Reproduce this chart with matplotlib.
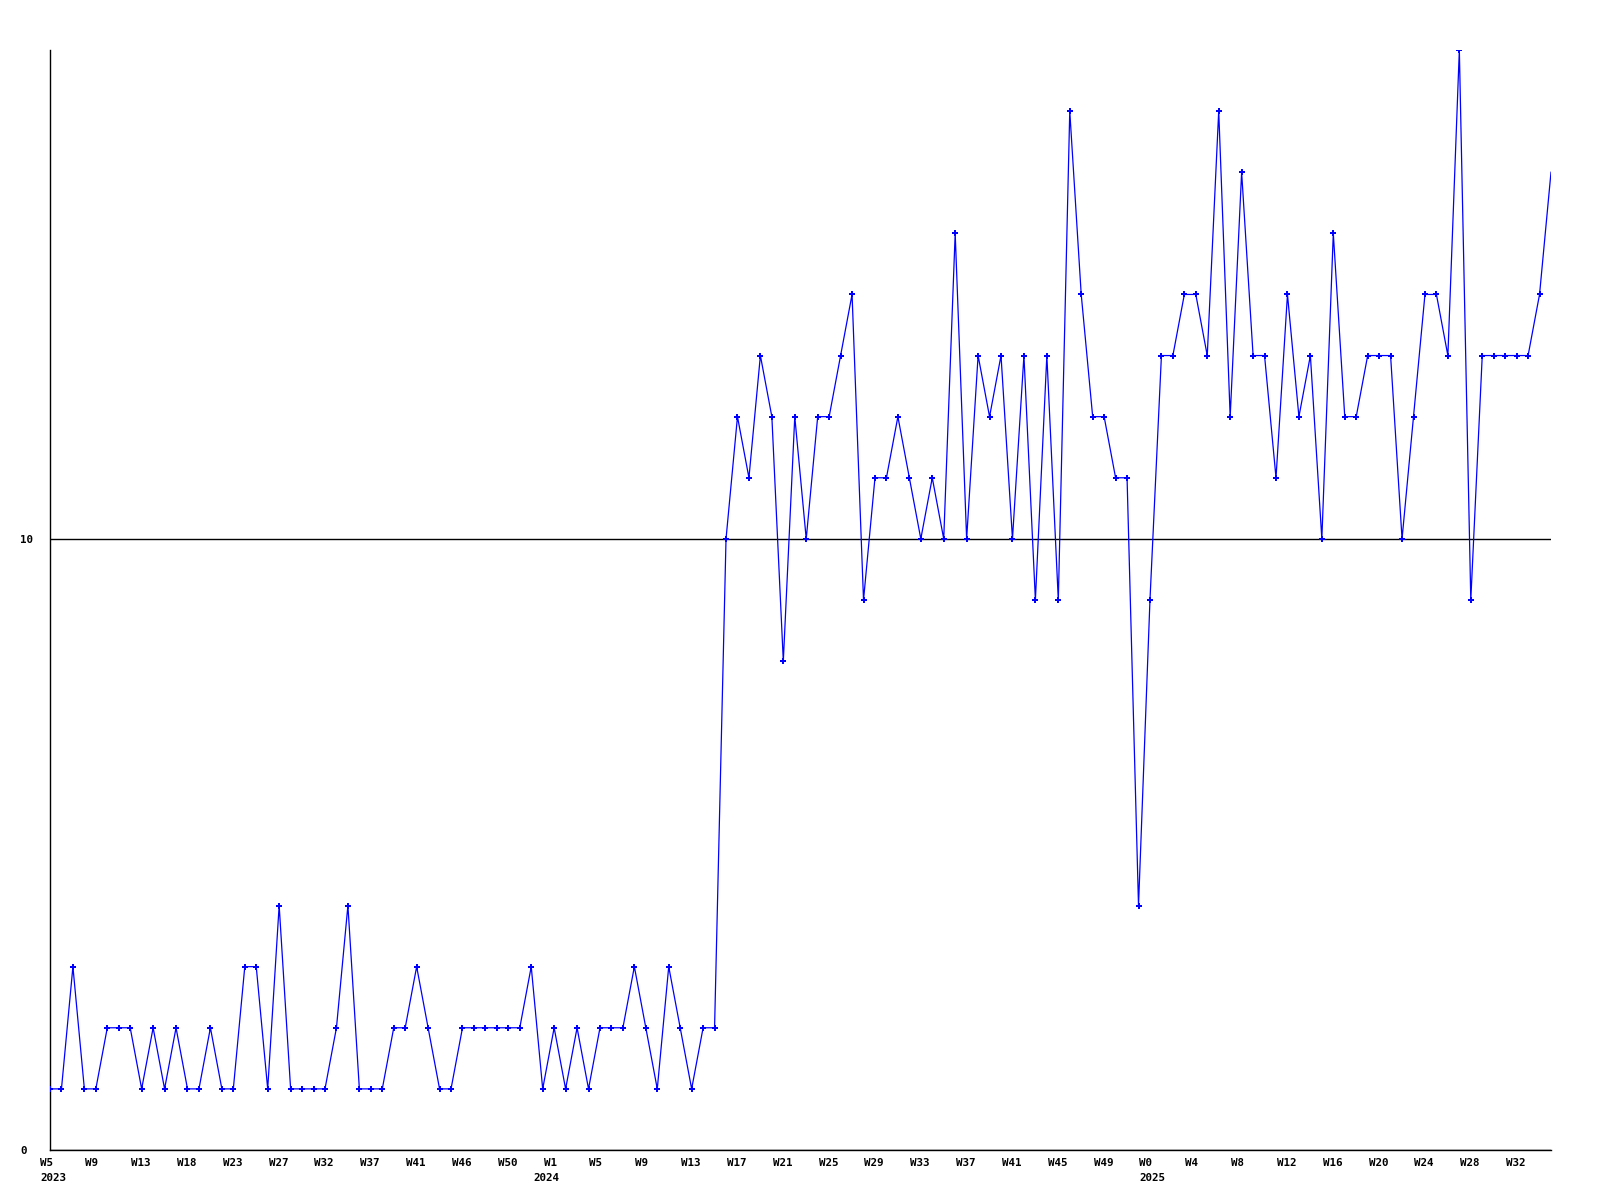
import matplotlib
matplotlib.use("Agg")
import matplotlib.pyplot as plt
from matplotlib.transforms import blended_transform_factory, ScaledTranslation

# ---- data (one point per index) ----
values = [
    1, 1, 3, 1, 1, 2, 2, 2, 1, 2, 1, 2, 1, 1, 2, 1, 1, 3, 3, 1,
    4, 1, 1, 1, 1, 2, 4, 1, 1, 1, 2, 2, 3, 2, 1, 1, 2, 2, 2, 2,
    2, 2, 3, 1, 2, 1, 2, 1, 2, 2, 2, 3, 2, 1, 3, 2, 1, 2, 2, 10,
    12, 11, 13, 12, 8, 12, 10, 12, 12, 13, 14, 9, 11, 11, 12, 11, 10, 11, 10, 15,
    10, 13, 12, 13, 10, 13, 9, 13, 9, 17, 14, 12, 12, 11, 11, 4, 9, 13, 13, 14,
    14, 13, 17, 12, 16, 13, 13, 11, 14, 12, 13, 10, 15, 12, 12, 13, 13, 13, 10, 12,
    14, 14, 13, 18, 9, 13, 13, 13, 13, 13, 14, 16,
]
week_labels = [
    "W5", "W9", "W13", "W18", "W23", "W27", "W32", "W37", "W41", "W46", "W50",
    "W1", "W5", "W9", "W13", "W17", "W21", "W25", "W29", "W33", "W37", "W41", "W45", "W49",
    "W0", "W4", "W8", "W12", "W16", "W20", "W24", "W28", "W32",
]
label_every = 4
year_labels = ["2023", "2024", "2025"]
year_label_index = [0, 44, 96]
year_label_shift_px = [-10, -21, -10.5]
ytick_values = [0, 10]
ytick_labels = ["0", "10"]

W, H = 1600, 1200
fig = plt.figure(figsize=(W / 100, H / 100), dpi=100)
fig.patch.set_facecolor("white")
L, R, T, B = 50, 1551, 50, 1150
ax = fig.add_axes([L / W, (H - B) / H, (R - L) / W, (B - T) / H])

n = len(values)
xs = list(range(n))
ax.plot(xs, values, color="#0000ff", lw=0.9, marker="P", markersize=4.2,
        markeredgewidth=0, markerfacecolor="#0000ff",
        markevery=list(range(n - 1)), zorder=3)

ax.set_xlim(0, n - 1)
ax.set_ylim(0, 18)

for s in ["top", "right"]:
    ax.spines[s].set_visible(False)
for s in ["left", "bottom"]:
    ax.spines[s].set_color("black")
    ax.spines[s].set_linewidth(1.0)

font = dict(family="DejaVu Sans Mono", weight="bold", size=7.8)

# y ticks
ax.set_yticks(ytick_values)
ax.set_yticklabels(ytick_labels, ha="left", **font)
ax.tick_params(axis="y", length=0, pad=30 * 72 / 100)
ax.yaxis.grid(True, color="black", lw=1.0)
ax.set_axisbelow(True)

# x labels
ax.set_xticks([])
trans = blended_transform_factory(ax.transData, ax.transAxes)
for k, lab in enumerate(week_labels):
    xi = k * label_every
    off = ScaledTranslation(-10.5 / 100, -12.5 / 100, fig.dpi_scale_trans)
    ax.text(xi, 0, lab, transform=trans + off, ha="left", va="center",
            clip_on=False, **font)
for lab, xi, dx in zip(year_labels, year_label_index, year_label_shift_px):
    off = ScaledTranslation(dx / 100, -28 / 100, fig.dpi_scale_trans)
    ax.text(xi, 0, lab, transform=trans + off, ha="left", va="center",
            clip_on=False, **font)

fig.savefig("out.png", dpi=100, facecolor="white")
